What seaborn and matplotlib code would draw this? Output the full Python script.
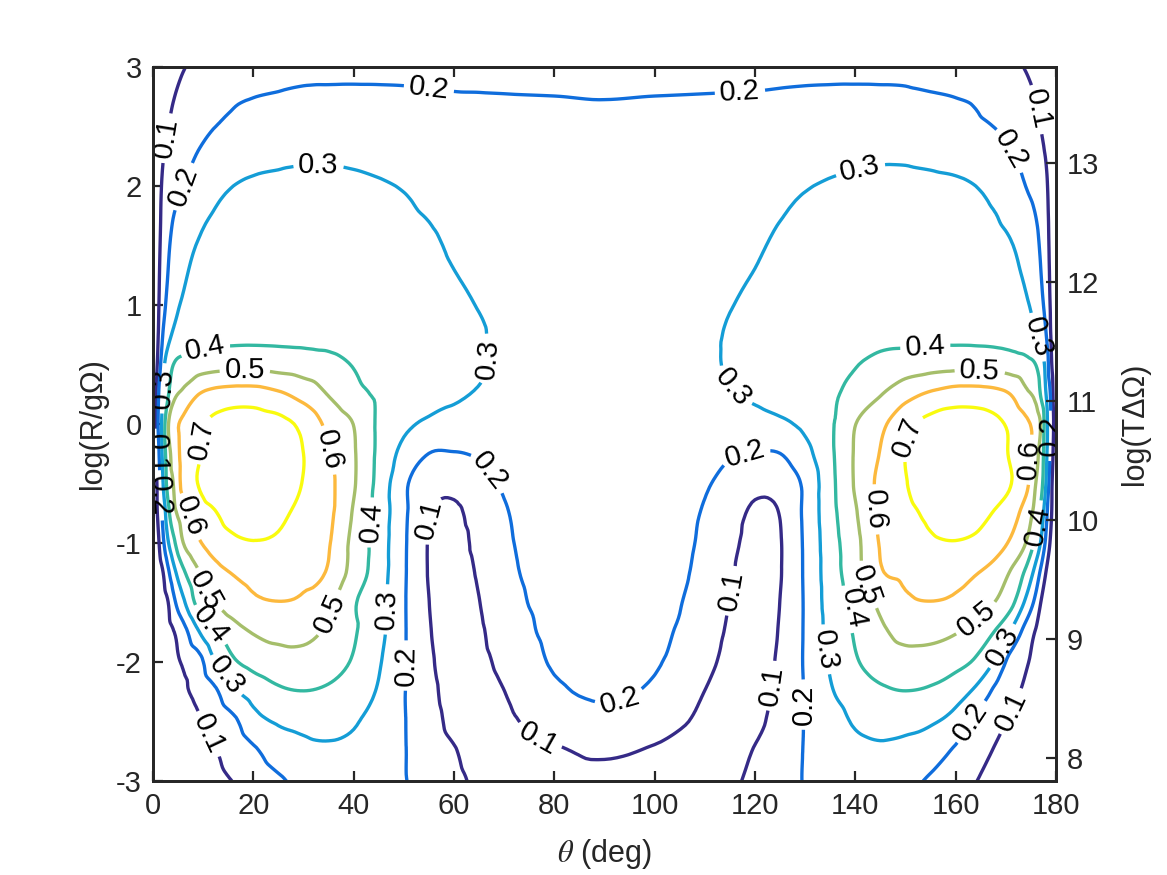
import numpy as np
import matplotlib
matplotlib.use("Agg")
import matplotlib.pyplot as plt
import matplotlib.tri as mtri
import seaborn as sns

# theta columns of the left half (deg); the right half is the mirror image
theta_half = [0, 0.5, 1, 2, 3, 4, 6, 9, 12, 16, 20, 25, 30, 35, 40, 45, 50, 55, 60, 65, 70, 80, 90]
# log(R/g Omega) rows
log_r = [-3, -2.75, -2.5, -2.25, -2, -1.75, -1.5, -1.25, -1, -0.75, -0.5, -0.25,
         0, 0.25, 0.5, 0.75, 1, 1.5, 2, 2.5, 2.75, 3]

# field values, one row per log_r value
row_m300 = [0, 0.004, 0.008, 0.016, 0.024, 0.032, 0.045, 0.065, 0.08, 0.102, 0.14, 0.185, 0.23, 0.245, 0.245, 0.23, 0.205, 0.16, 0.12, 0.085, 0.065, 0.06, 0.06]
row_m275 = [0, 0.005, 0.01, 0.02, 0.03, 0.04, 0.055, 0.075, 0.093, 0.135, 0.185, 0.245, 0.275, 0.285, 0.275, 0.24, 0.205, 0.145, 0.105, 0.07, 0.068, 0.09, 0.115]
row_m250 = [0, 0.006, 0.012, 0.024, 0.036, 0.048, 0.065, 0.09, 0.125, 0.18, 0.265, 0.31, 0.325, 0.33, 0.31, 0.255, 0.205, 0.135, 0.08, 0.065, 0.083, 0.14, 0.17]
row_m225 = [0, 0.008, 0.016, 0.03, 0.045, 0.06, 0.085, 0.125, 0.175, 0.28, 0.34, 0.385, 0.398, 0.385, 0.35, 0.29, 0.205, 0.125, 0.07, 0.07, 0.099, 0.183, 0.215]
row_m200 = [0, 0.01, 0.02, 0.04, 0.06, 0.075, 0.11, 0.16, 0.285, 0.385, 0.43, 0.455, 0.46, 0.44, 0.39, 0.31, 0.21, 0.115, 0.065, 0.08, 0.122, 0.21, 0.235]
row_m175 = [0, 0.013, 0.026, 0.05, 0.075, 0.093, 0.16, 0.29, 0.39, 0.46, 0.505, 0.53, 0.53, 0.48, 0.41, 0.33, 0.21, 0.107, 0.062, 0.088, 0.145, 0.222, 0.238]
row_m150 = [0, 0.016, 0.032, 0.065, 0.098, 0.17, 0.28, 0.43, 0.495, 0.55, 0.585, 0.598, 0.585, 0.52, 0.41, 0.34, 0.21, 0.101, 0.06, 0.098, 0.163, 0.228, 0.24]
row_m125 = [0, 0.024, 0.05, 0.098, 0.18, 0.26, 0.38, 0.49, 0.56, 0.605, 0.625, 0.63, 0.62, 0.59, 0.46, 0.35, 0.213, 0.095, 0.065, 0.11, 0.176, 0.232, 0.243]
row_m100 = [0, 0.035, 0.08, 0.18, 0.29, 0.37, 0.498, 0.585, 0.64, 0.68, 0.695, 0.685, 0.645, 0.607, 0.47, 0.355, 0.215, 0.095, 0.07, 0.125, 0.185, 0.236, 0.245]
row_m075 = [0, 0.06, 0.115, 0.23, 0.37, 0.46, 0.55, 0.65, 0.69, 0.735, 0.75, 0.72, 0.672, 0.622, 0.49, 0.365, 0.22, 0.103, 0.085, 0.14, 0.193, 0.24, 0.25]
row_m050 = [0, 0.065, 0.13, 0.298, 0.44, 0.498, 0.63, 0.702, 0.745, 0.77, 0.772, 0.76, 0.695, 0.625, 0.51, 0.37, 0.22, 0.135, 0.125, 0.165, 0.21, 0.245, 0.255]
row_m025 = [0, 0.085, 0.165, 0.33, 0.46, 0.53, 0.63, 0.69, 0.735, 0.76, 0.765, 0.75, 0.7, 0.605, 0.51, 0.38, 0.27, 0.199, 0.195, 0.21, 0.24, 0.255, 0.26]
row_p000 = [0, 0.105, 0.198, 0.34, 0.49, 0.56, 0.62, 0.68, 0.72, 0.745, 0.748, 0.73, 0.675, 0.575, 0.498, 0.385, 0.32, 0.285, 0.27, 0.265, 0.265, 0.265, 0.265]
row_p025 = [0, 0.08, 0.18, 0.302, 0.39, 0.47, 0.52, 0.598, 0.63, 0.645, 0.645, 0.615, 0.565, 0.495, 0.43, 0.385, 0.35, 0.33, 0.31, 0.295, 0.285, 0.275, 0.27]
row_p050 = [0, 0.06, 0.12, 0.27, 0.35, 0.398, 0.43, 0.45, 0.462, 0.468, 0.468, 0.46, 0.448, 0.43, 0.395, 0.36, 0.34, 0.325, 0.315, 0.305, 0.29, 0.275, 0.27]
row_p075 = [0, 0.05, 0.095, 0.205, 0.27, 0.31, 0.34, 0.36, 0.37, 0.375, 0.377, 0.376, 0.374, 0.37, 0.36, 0.347, 0.336, 0.326, 0.316, 0.305, 0.288, 0.275, 0.27]
row_p100 = [0, 0.045, 0.085, 0.17, 0.225, 0.27, 0.31, 0.34, 0.355, 0.362, 0.366, 0.368, 0.368, 0.365, 0.358, 0.348, 0.336, 0.323, 0.31, 0.298, 0.285, 0.272, 0.268]
row_p150 = [0, 0.035, 0.07, 0.14, 0.185, 0.225, 0.265, 0.305, 0.325, 0.338, 0.345, 0.35, 0.352, 0.35, 0.345, 0.335, 0.322, 0.31, 0.292, 0.28, 0.27, 0.262, 0.26]
row_p200 = [0, 0.03, 0.06, 0.115, 0.145, 0.17, 0.199, 0.24, 0.275, 0.3, 0.312, 0.318, 0.322, 0.322, 0.316, 0.307, 0.296, 0.28, 0.265, 0.258, 0.25, 0.245, 0.243]
row_p250 = [0, 0.02, 0.04, 0.075, 0.098, 0.12, 0.15, 0.175, 0.197, 0.215, 0.228, 0.24, 0.25, 0.25, 0.248, 0.243, 0.237, 0.23, 0.222, 0.218, 0.216, 0.216, 0.217]
row_p275 = [0, 0.015, 0.03, 0.06, 0.078, 0.095, 0.125, 0.15, 0.165, 0.19, 0.199, 0.206, 0.212, 0.213, 0.213, 0.212, 0.21, 0.207, 0.204, 0.203, 0.202, 0.2005, 0.198]
row_p300 = [0, 0.01, 0.02, 0.04, 0.055, 0.07, 0.095, 0.12, 0.135, 0.155, 0.165, 0.17, 0.18, 0.182, 0.183, 0.183, 0.183, 0.182, 0.18, 0.18, 0.179, 0.177, 0.175]

levels = [0.1, 0.2, 0.3, 0.4, 0.5, 0.6, 0.7]
# parula-like colours, one per level
level_colors = ['#352a87', '#0f6ddc', '#149dd6', '#33b8a1', '#a5be6a', '#fcb93d', '#f9fb0e']
right_ticks = [8, 9, 10, 11, 12, 13]
right_offset = 10.805  # log(T dOmega) = log(R/g Omega) + offset

eff_half = np.array([row_m300, row_m275, row_m250, row_m225, row_m200, row_m175,
                     row_m150, row_m125, row_m100, row_m075, row_m050, row_m025,
                     row_p000, row_p025, row_p050, row_p075, row_p100, row_p150,
                     row_p200, row_p250, row_p275, row_p300])

# mirror about theta = 90
theta_full = np.concatenate([theta_half, 180 - np.array(theta_half[-2::-1])])
eff_full = np.hstack([eff_half, eff_half[:, -2::-1]])
T, Y = np.meshgrid(theta_full, log_r)

# triangulate the grid and let matplotlib smooth it
ny, nx = T.shape
idx = np.arange(ny * nx).reshape(ny, nx)
a, b = idx[:-1, :-1].ravel(), idx[:-1, 1:].ravel()
c, d = idx[1:, 1:].ravel(), idx[1:, :-1].ravel()
tris = np.vstack([np.column_stack([a, b, c]), np.column_stack([a, c, d])])
scale = 24.0
tri = mtri.Triangulation(T.ravel() / scale, Y.ravel(), tris)
interp = mtri.CubicTriInterpolator(tri, eff_full.ravel(), kind='geom')
tri_f, z_f = mtri.UniformTriRefiner(tri).refine_field(eff_full.ravel(), triinterpolator=interp, subdiv=3)
tri_plot = mtri.Triangulation(tri_f.x * scale, tri_f.y, tri_f.triangles)

sns.set_theme(style="ticks")
plt.rcParams['font.family'] = ['Liberation Sans', 'DejaVu Sans']
plt.rcParams['mathtext.fontset'] = 'stix'
plt.rcParams['axes.unicode_minus'] = False

fig = plt.figure(figsize=(11.67, 8.75), dpi=100)
ax = fig.add_axes([153 / 1167, 1 - 781 / 875, 903 / 1167, 714 / 875])

cs = ax.tricontour(tri_plot, z_f, levels=levels, colors=level_colors, linewidths=2.4)

# label spots, roughly where the original put them
label_spots = [
    (55, 2.82), (117, 2.79), (33, 2.17), (141, 2.14),
    (3, 2.4), (176, 2.64), (5.8, 2.0), (172.8, 2.35),
    (66, 0.55), (116.5, 0.35), (10.8, 0.56), (153.9, 0.58),
    (18.3, 0.42), (164.8, 0.44), (8.8, -0.13), (152.5, -0.13),
    (34.9, -0.22), (174.2, -0.3), (7.4, -0.78), (142.9, -0.72),
    (10, -1.42), (35.3, -1.59), (142.5, -1.35), (163.8, -1.62),
    (11, -1.7), (43.9, -0.83), (138, -1.55), (176.2, -0.85),
    (14.4, -2.12), (47.2, -1.56), (133.3, -1.9), (169.4, -1.87),
    (50.6, -2.03), (66.8, -0.41), (93, -2.32), (118.4, -0.3),
    (130.6, -2.36), (163.4, -2.51),
    (56.2, -0.81), (77, -2.62), (115, -1.4), (123.4, -2.2),
    (11.3, -2.6), (170.4, -2.4), (1.8, 0.3), (174.8, 0.71),
    (0.7, -0.25), (1.4, -0.6), (179.2, -0.1),
]
ax.clabel(cs, fmt='%g', fontsize=21, colors='black', inline=True, manual=label_spots)

ax.set_xlim(0, 180)
ax.set_ylim(-3, 3)
ax.set_xticks(range(0, 181, 20))
ax.set_yticks(range(-3, 4))
ax.set_xlabel(r'$\theta$ (deg)', fontsize=22, color='#262626', labelpad=12)
ax.set_ylabel('log(R/gΩ)', fontsize=22, color='#262626', labelpad=6)
ax.tick_params(direction='in', length=7, width=1.6, top=True, right=False,
               labelsize=21, colors='#262626', pad=8)

ax2 = ax.twinx()
ax2.set_ylim(-3 + right_offset, 3 + right_offset)
ax2.set_yticks(right_ticks)
ax2.set_ylabel('log(TΔΩ)', fontsize=22, color='#262626', labelpad=15)
ax2.tick_params(direction='in', length=7, width=1.6, labelsize=21, colors='#262626', pad=8)

for axis in (ax, ax2):
    for sp in axis.spines.values():
        sp.set_visible(True)
        sp.set_linewidth(2.0)
        sp.set_color('#262626')

fig.savefig('out.png', dpi=100)
